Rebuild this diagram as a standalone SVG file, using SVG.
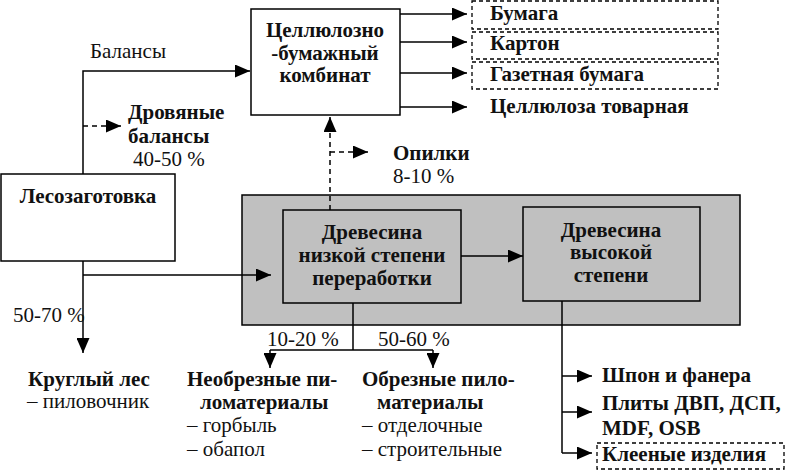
<svg xmlns="http://www.w3.org/2000/svg" width="786" height="471" viewBox="0 0 786 471">
<style>
.box{fill:#fff;stroke:#000;stroke-width:1.5}
.gbox{fill:#c0c0c0;stroke:#000;stroke-width:1.5}
.dbox{fill:none;stroke:#000;stroke-width:1.3;stroke-dasharray:4 3}
.ln{fill:none;stroke:#000;stroke-width:1.5}
.dl{fill:none;stroke:#000;stroke-width:1.5;stroke-dasharray:5 4}
.b{font-family:"Liberation Serif","Times New Roman",serif;font-weight:bold;font-size:21px;fill:#111}
.r{font-family:"Liberation Serif","Times New Roman",serif;font-size:21px;fill:#111}
.c{text-anchor:middle}
</style>
<defs>
<marker id="arr" viewBox="0 0 15 13" refX="15" refY="6.5" markerWidth="15" markerHeight="13" markerUnits="userSpaceOnUse" orient="auto">
<path d="M0,0 L15,6.5 L0,13 z" fill="#000"/>
</marker>
</defs>

<g id="processing-area">
<rect class="gbox" x="242" y="195" width="498" height="130"/>
</g>

<g id="connectors">
<path class="ln" d="M83,174 V71 H250" marker-end="url(#arr)"/>
<path class="dl" d="M83,126 H121" marker-end="url(#arr)"/>
<path class="ln" d="M83,261 V353" marker-end="url(#arr)"/>
<path class="ln" d="M83,275 H271" marker-end="url(#arr)"/>
<path class="ln" d="M400,14 H467" marker-end="url(#arr)"/>
<path class="ln" d="M400,42 H467" marker-end="url(#arr)"/>
<path class="ln" d="M400,73 H467" marker-end="url(#arr)"/>
<path class="ln" d="M400,107 H467" marker-end="url(#arr)"/>
<path class="dl" d="M330,210 V117" marker-end="url(#arr)"/>
<path class="dl" d="M330,152 H368" marker-end="url(#arr)"/>
<path class="ln" d="M461,256 H523" marker-end="url(#arr)"/>
<path class="ln" d="M353,303 V350 M270,350 H433"/>
<path class="ln" d="M270,350 V368" marker-end="url(#arr)"/>
<path class="ln" d="M433,350 V368" marker-end="url(#arr)"/>
<path class="ln" d="M562,301 V453"/>
<path class="ln" d="M562,376 H592" marker-end="url(#arr)"/>
<path class="ln" d="M562,412 H592" marker-end="url(#arr)"/>
<path class="ln" d="M562,453 H592" marker-end="url(#arr)"/>
</g>

<g id="lesozagotovka">
<rect class="box" x="1" y="174" width="174" height="87"/>
<text class="b c" x="88" y="203">Лесозаготовка</text>
</g>

<g id="cbk">
<rect class="box" x="251" y="9" width="149" height="106"/>
<text class="b c" x="325" y="37">Целлюлозно</text>
<text class="b c" x="325" y="60">-бумажный</text>
<text class="b c" x="325" y="82">комбинат</text>
</g>

<g id="low-processing">
<rect class="gbox" x="283" y="210" width="178" height="93"/>
<text class="b c" x="372" y="239">Древесина</text>
<text class="b c" x="372" y="262">низкой степени</text>
<text class="b c" x="372" y="285">переработки</text>
</g>

<g id="high-processing">
<rect class="gbox" x="523" y="207" width="177" height="94"/>
<text class="b c" x="611" y="237">Древесина</text>
<text class="b c" x="611" y="259">высокой</text>
<text class="b c" x="611" y="282">степени</text>
</g>

<g id="paper-products">
<rect class="dbox" x="472" y="1" width="246" height="28"/>
<text class="b" x="490" y="20">Бумага</text>
<rect class="dbox" x="472" y="32" width="246" height="27"/>
<text class="b" x="490" y="50">Картон</text>
<rect class="dbox" x="472" y="62" width="246" height="27"/>
<text class="b" x="490" y="81">Газетная бумага</text>
<text class="b" x="490" y="113">Целлюлоза товарная</text>
</g>

<g id="labels">
<text class="r" x="90" y="58">Балансы</text>
<text class="b" x="128" y="119">Дровяные</text>
<text class="b" x="128" y="143">балансы</text>
<text class="r" x="133" y="166">40-50 %</text>
<text class="b" x="393" y="160">Опилки</text>
<text class="r" x="393" y="183">8-10 %</text>
<text class="r" x="13" y="322">50-70 %</text>
<text class="r" x="267" y="346">10-20 %</text>
<text class="r" x="378" y="346">50-60 %</text>
</g>

<g id="round-wood">
<text class="b" x="28" y="386">Круглый лес</text>
<text class="r" x="27" y="408">– пиловочник</text>
</g>

<g id="unedged">
<text class="b" x="187" y="386">Необрезные пи-</text>
<text class="b" x="200" y="409">ломатериалы</text>
<text class="r" x="187" y="432">– горбыль</text>
<text class="r" x="187" y="456">– обапол</text>
</g>

<g id="edged">
<text class="b" x="362" y="386">Обрезные пило-</text>
<text class="b" x="377" y="409">материалы</text>
<text class="r" x="362" y="432">– отделочные</text>
<text class="r" x="362" y="456">– строительные</text>
</g>

<g id="high-products">
<text class="b" x="602" y="382">Шпон и фанера</text>
<text class="b" x="602" y="410">Плиты ДВП, ДСП,</text>
<text class="b" x="602" y="435">MDF, OSB</text>
<rect class="dbox" x="597" y="443" width="187" height="26"/>
<text class="b" x="602" y="461">Клееные изделия</text>
</g>
</svg>
